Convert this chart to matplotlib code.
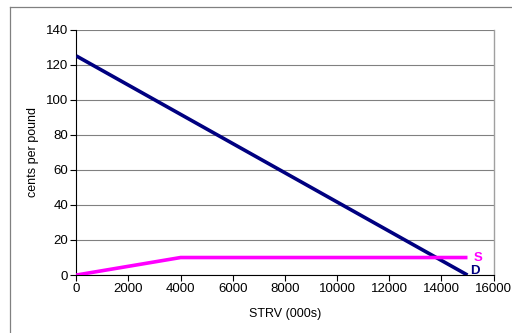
import matplotlib.pyplot as plt
from matplotlib.lines import Line2D

plt.rcParams['font.family'] = ['Liberation Sans', 'DejaVu Sans']

# demand and supply curves
demand_x = [0, 15000]
demand_y = [125, 0]
supply_x = [0, 4000, 15000]
supply_y = [0, 10, 10]

fig = plt.figure(figsize=(5.12, 3.33), dpi=100)
ax = fig.add_axes([0.149, 0.174, 0.815, 0.737])

ax.plot(demand_x, demand_y, color="#000080", lw=2.6, solid_capstyle="butt", zorder=3)
ax.plot(supply_x, supply_y, color="#ff00ff", lw=2.6, solid_capstyle="butt", zorder=3)

ax.text(15250, 10, "S", color="#ff00ff", fontsize=9.5, fontweight="bold", va="center", ha="left")
ax.text(15100, 2.5, "D", color="#000080", fontsize=9.5, fontweight="bold", va="center", ha="left")

ax.set_xlim(0, 16000)
ax.set_ylim(0, 140)
ax.set_xticks(range(0, 16001, 2000))
ax.set_yticks(range(0, 141, 20))
ax.tick_params(labelsize=9.5, length=4, width=0.8, direction="out", pad=2)
ax.yaxis.grid(True, color="#808080", lw=0.8)
ax.set_axisbelow(True)
for s in ["top", "right"]:
    ax.spines[s].set_color("#a0a0a0")
    ax.spines[s].set_linewidth(1.0)
ax.spines["top"].set_visible(False)

ax.set_xlabel("STRV (000s)", fontsize=9, labelpad=9)
ax.set_ylabel("cents per pound", fontsize=9, labelpad=5)

# outer chart border (only top and left visible)
fig.lines.append(Line2D([10/512, 10/512], [0, 1 - 7/333], transform=fig.transFigure, color="#808080", lw=0.9))
fig.lines.append(Line2D([10/512, 1], [1 - 7/333, 1 - 7/333], transform=fig.transFigure, color="#808080", lw=0.9))

fig.savefig("out.png", dpi=100)
